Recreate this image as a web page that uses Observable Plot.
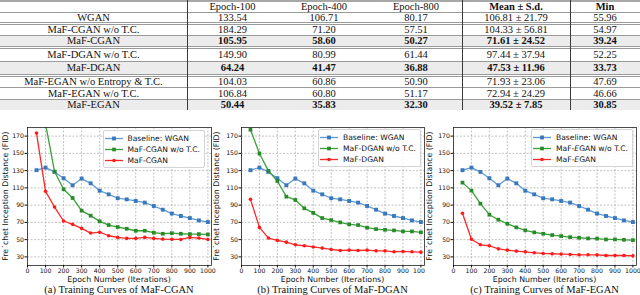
<!DOCTYPE html>
<html><head><meta charset="utf-8">
<script src="https://cdn.jsdelivr.net/npm/d3@7"></script>
<script src="https://cdn.jsdelivr.net/npm/@observablehq/plot@0.6"></script>
<style>
body{margin:0;background:#fff;}
#root{position:relative;width:640px;height:295px;overflow:hidden;background:#fff;}
#tbl{position:absolute;left:0;top:0;width:640px;font-family:"Liberation Serif",serif;font-size:10.5px;color:#111;}
.row{display:flex;width:640px;box-sizing:content-box;}
.cell{text-align:center;white-space:nowrap;overflow:hidden;}
.vline{position:absolute;top:0;width:1px;background:#3a3a3a;}
.chart{position:absolute;top:118px;}
.cap{position:absolute;top:284.5px;line-height:10px;font-family:"Liberation Serif",serif;font-size:10.5px;white-space:nowrap;transform:translateX(-50%);color:#111;}
.xlab{position:absolute;top:276px;line-height:8px;font-family:"DejaVu Sans",sans-serif;font-size:7.8px;white-space:nowrap;transform:translateX(-50%);color:#111;}
.ylab{position:absolute;top:196px;line-height:8px;font-family:"DejaVu Sans",sans-serif;font-size:7.8px;white-space:nowrap;transform:translate(-50%,-50%) rotate(-90deg);color:#111;}
.legend{position:absolute;background:rgba(255,255,255,0.85);border:1px solid #d4d4d4;border-radius:2px;font-family:"DejaVu Sans",sans-serif;font-size:7.6px;color:#111;padding:1.5px 4px 1.5px 1px;}
.legend .ent{display:flex;align-items:center;height:11px;}
.legend svg{margin-right:5px;}
</style></head>
<body>
<div id="root"><div id="tbl"></div></div>
<script>
// ---------- table data ----------
const colHeads = ["", "Epoch-100", "Epoch-400", "Epoch-800", "Mean \u00b1 S.d.", "Min"];
const rowNames = ["WGAN", "MaF-CGAN w/o T.C.", "MaF-CGAN", "MaF-DGAN w/o T.C.", "MaF-DGAN",
  "MaF-EGAN w/o Entropy & T.C.", "MaF-EGAN w/o T.C.", "MaF-EGAN"];
const ep100 = ["133.54", "184.29", "105.95", "149.90", "64.24", "104.03", "106.84", "50.44"];
const ep400 = ["106.71", "71.20", "58.60", "80.99", "41.47", "60.86", "60.80", "35.83"];
const ep800 = ["80.17", "57.51", "50.27", "61.44", "36.88", "50.90", "51.17", "32.30"];
const meanSd = ["106.81 \u00b1 21.79", "104.33 \u00b1 56.81", "71.61 \u00b1 24.52", "97.44 \u00b1 37.94",
  "47.53 \u00b1 11.96", "71.93 \u00b1 23.06", "72.94 \u00b1 24.29", "39.52 \u00b1 7.85"];
const mins = ["55.96", "54.97", "39.24", "52.25", "33.73", "47.69", "46.66", "30.85"];
const oursRows = [2, 4, 7];
const groupStarts = [1, 3, 5];

// ---------- chart data ----------
const epochs = [50, 100, 150, 200, 250, 300, 350, 400, 450, 500, 550, 600, 650, 700, 750, 800, 850, 900, 950, 1000];
const wgan = [130.5, 133.5, 128.5, 121.2, 113.0, 120.8, 115.3, 106.7, 102.5, 98.0, 96.7, 94.8, 92.9, 89.0, 84.7, 80.2, 77.4, 75.0, 72.3, 70.4];
const cganNoTC = [null, 184.3, 128.9, 108.4, 98.3, 83.6, 77.8, 71.2, 66.9, 64.6, 62.6, 60.3, 60.3, 58.0, 56.8, 57.5, 56.8, 56.4, 56.4, 56.0];
const cgan = [173.5, 105.95, 87.8, 71.6, 67.7, 63.0, 57.6, 58.6, 54.5, 52.6, 51.4, 51.4, 52.6, 51.4, 50.6, 50.3, 50.2, 52.6, 51.8, 50.2];
const dganNoTC = [177.4, 149.9, 129.7, 118.0, 99.8, 96.0, 86.3, 81.0, 75.0, 72.7, 70.0, 67.7, 66.9, 63.8, 62.2, 61.4, 60.7, 59.5, 59.5, 58.4];
const dgan = [96.7, 64.2, 51.8, 49.1, 47.1, 44.0, 42.9, 41.5, 40.2, 38.6, 37.4, 37.8, 37.4, 37.8, 37.0, 36.9, 35.9, 36.3, 35.9, 35.5];
const eganNoTC = [116.1, 106.8, 91.7, 78.9, 73.1, 68.4, 64.2, 60.8, 58.4, 56.8, 55.3, 54.1, 52.9, 52.2, 51.4, 51.2, 50.2, 50.2, 49.8, 49.4];
const egan = [80.5, 50.4, 44.0, 42.9, 39.3, 37.8, 36.7, 35.8, 34.7, 34.0, 33.6, 33.2, 32.8, 32.4, 32.4, 32.3, 31.6, 31.6, 31.6, 31.2];

const xTicks = [0, 100, 200, 300, 400, 500, 600, 700, 800, 900, 1000];
const yTicks = [30, 50, 70, 90, 110, 130, 150, 170];
const legendA = ["Baseline: WGAN", "MaF-CGAN w/o T.C.", "MaF-CGAN"];
const legendB = ["Baseline: WGAN", "MaF-DGAN w/o T.C.", "MaF-DGAN"];
const legendC = ["Baseline: WGAN", "MaF-EGAN w/o T.C.", "MaF-EGAN"];
const captions = ["(a) Training Curves of MaF-CGAN", "(b) Training Curves of MaF-DGAN", "(c) Training Curves of MaF-EGAN"];
const xLabel = "Epoch Number (Iterations)";
const yLabel = "Fre\u00b4chet Inception Distance (FID)";

// ---------- styles ----------
const lineColors = ["#5f9bd6", "#38a238", "#ff2626"];
const dotColors = ["#3b78bb", "#2a8a2a", "#ff1a1a"];
const symbols = ["square", "square", "circle"];
const radii = [2.2, 2.1, 1.8];

// ---------- build table ----------
const tbl = document.getElementById("tbl");
const colW = [187, 91, 92, 92, 108, 70];
const rowH = [10, 9, 10, 10, 12, 12, 10, 11, 10];
function addRow(vals, i, isHeader) {
  const r = document.createElement("div");
  r.className = "row";
  r.style.height = rowH[i] + "px";
  r.style.lineHeight = rowH[i] + "px";
  if (i === 0) r.style.borderTop = "2px solid #a8a8a8";
  else if (i === 1) r.style.borderTop = "1px solid #9a9a9a";
  else if (groupStarts.includes(i - 1)) r.style.borderTop = "3px double #9a9a9a";
  else r.style.borderTop = "1px solid #9a9a9a";
  const ours = !isHeader && oursRows.includes(i - 1);
  if (ours) r.style.background = "#ececec";
  vals.forEach((v, j) => {
    const c = document.createElement("div");
    c.className = "cell";
    c.style.width = colW[j] + "px";
    c.textContent = v;
    if ((ours && j > 0) || (isHeader && j >= 4)) c.style.fontWeight = "bold";
    r.appendChild(c);
  });
  tbl.appendChild(r);
}
addRow(colHeads, 0, true);
rowNames.forEach((n, k) => addRow([n, ep100[k], ep400[k], ep800[k], meanSd[k], mins[k]], k + 1, false));
const tblH = tbl.getBoundingClientRect().height;
[187, 462, 570].forEach(x => {
  const v = document.createElement("div");
  v.className = "vline";
  v.style.left = x + "px";
  v.style.height = tblH + "px";
  tbl.appendChild(v);
});

// ---------- charts ----------
const root = document.getElementById("root");
const charts = [
  {left: 0, width: 216, ml: 27, mr: 5, yLabX: 5.5, bg: "white", series: [wgan, cganNoTC, cgan], legend: legendA, legRight: 205, legTop: 130, italicE: false},
  {left: 212, width: 213, ml: 29, mr: 1, yLabX: 217, bg: "transparent", series: [wgan, dganNoTC, dgan], legend: legendB, legRight: 421, legTop: 129, italicE: false},
  {left: 425, width: 215, ml: 28, mr: 4, yLabX: 430, bg: "white", series: [wgan, eganNoTC, egan], legend: legendC, legRight: 633, legTop: 129, italicE: true}
];

const overlays = [];
charts.forEach((cfg, ci) => {
  const marks = [
    Plot.gridX(xTicks, {stroke: "#b4b4b4", strokeOpacity: 1, strokeDasharray: "2,1.5", strokeWidth: 0.8}),
    Plot.gridY(yTicks, {stroke: "#b4b4b4", strokeOpacity: 1, strokeDasharray: "2,1.5", strokeWidth: 0.8})
  ];
  cfg.series.forEach((vals, k) => {
    const data = epochs.map((e, i) => ({epoch: e, v: vals[i]}));
    marks.push(Plot.line(data, {x: "epoch", y: "v", stroke: lineColors[k], strokeWidth: 1.3, clip: true}));
    marks.push(Plot.dot(data.filter(d => d.v != null), {x: "epoch", y: "v", symbol: symbols[k], r: radii[k], fill: dotColors[k], stroke: "none", clip: true}));
  });
  marks.push(Plot.frame({stroke: "#222", strokeWidth: 0.8}));
  marks.push(Plot.axisX(xTicks, {tickSize: 2.5, tickPadding: 1, tickFormat: d3.format("d"), fontSize: 6.2, label: null}));
  marks.push(Plot.axisY(yTicks, {tickSize: 2.5, tickPadding: 1, tickFormat: d3.format("d"), fontSize: 6.2, label: null}));
  const svg = Plot.plot({
    width: cfg.width, height: 167,
    marginLeft: cfg.ml, marginRight: cfg.mr, marginTop: 9, marginBottom: 20,
    style: {background: cfg.bg, fontFamily: "DejaVu Sans", fontSize: "6.2px", color: "#111"},
    x: {domain: [0, 1020], label: null},
    y: {domain: [20, 180], label: null},
    marks
  });
  const wrap = document.createElement("div");
  wrap.className = "chart";
  wrap.style.left = cfg.left + "px";
  wrap.appendChild(svg);
  root.appendChild(wrap);

  const fx = cfg.left + cfg.ml + (cfg.width - cfg.ml - cfg.mr) / 2;
  // axis titles
  const xl = document.createElement("div");
  xl.className = "xlab";
  xl.style.left = fx + "px";
  xl.textContent = xLabel;
  overlays.push(xl);
  const yl = document.createElement("div");
  yl.className = "ylab";
  yl.style.left = cfg.yLabX + "px";
  yl.textContent = yLabel;
  overlays.push(yl);

  // caption
  const cap = document.createElement("div");
  cap.className = "cap";
  cap.style.left = fx + "px";
  cap.textContent = captions[ci];
  overlays.push(cap);

  // legend
  const leg = document.createElement("div");
  leg.className = "legend";
  leg.style.right = (640 - cfg.legRight) + "px";
  leg.style.top = cfg.legTop + "px";
  cfg.legend.forEach((name, k) => {
    const ent = document.createElement("div");
    ent.className = "ent";
    const s = d3.create("svg").attr("width", 18).attr("height", 7);
    s.append("line").attr("x1", 0).attr("x2", 18).attr("y1", 3.5).attr("y2", 3.5).attr("stroke", lineColors[k]).attr("stroke-width", 1.3);
    const sym = d3.symbol(symbols[k] === "square" ? d3.symbolSquare : d3.symbolCircle, Math.PI * radii[k] * radii[k]);
    s.append("path").attr("d", sym()).attr("transform", "translate(9,3.5)").attr("fill", dotColors[k]);
    ent.appendChild(s.node());
    const t = document.createElement("span");
    if (cfg.italicE && name.startsWith("MaF-E")) {
      t.append("MaF-");
      const it = document.createElement("i");
      it.textContent = "E";
      t.append(it);
      t.append(name.slice(5));
    } else t.textContent = name;
    ent.appendChild(t);
    leg.appendChild(ent);
  });
  root.appendChild(leg);
});
overlays.forEach(o => root.appendChild(o));
</script>
</body></html>
